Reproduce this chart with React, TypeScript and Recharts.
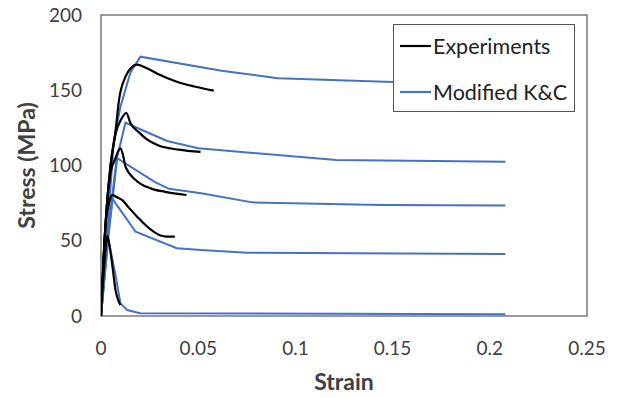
import { LineChart, Line, XAxis, YAxis, Legend, ReferenceArea, Label } from "recharts"

const xTicks = [0, 0.05, 0.1, 0.15, 0.2, 0.25]
const yTicks = [0, 50, 100, 150, 200]
const seriesNames = ["Experiments", "Modified K&C"]

// experiments (black)
const exp1Strain = [0, 0.0023, 0.0049, 0.0075, 0.0092, 0.0126, 0.0155, 0.0185, 0.023, 0.029, 0.039, 0.048, 0.058]
const exp1Stress = [0, 60, 100, 123, 143, 159, 165, 167, 165, 161, 155.7, 152.5, 149.7]
const exp2Strain = [0, 0.0023, 0.0049, 0.0075, 0.0105, 0.013, 0.0152, 0.0195, 0.024, 0.029, 0.04, 0.0512]
const exp2Stress = [0, 60, 100, 121, 131, 135, 128, 122, 117, 113.6, 110.5, 109]
const exp3Strain = [0, 0.0023, 0.0049, 0.0075, 0.009, 0.01, 0.0115, 0.0126, 0.0178, 0.0255, 0.033, 0.044]
const exp3Stress = [0, 60, 95, 105, 110, 111.4, 106, 99.2, 90.4, 84.8, 82.5, 80.4]
const exp4Strain = [0, 0.0023, 0.0045, 0.0058, 0.008, 0.011, 0.0143, 0.0186, 0.026, 0.0306, 0.034, 0.038]
const exp4Stress = [0, 60, 77, 80.4, 79, 77, 72, 66, 57, 53.5, 52.8, 52.7]
const exp5Strain = [0, 0.002, 0.0032, 0.0042, 0.0058, 0.0075, 0.009, 0.01]
const exp5Stress = [0, 40, 53.5, 48, 34, 17, 10, 7.3]

// Modified K&C model (blue)
const kc1Strain = [0, 0.0035, 0.0066, 0.01, 0.0152, 0.0203, 0.062, 0.091, 0.15, 0.208]
const kc1Stress = [0, 60, 117, 139, 162, 172.3, 163, 158, 155.5, 153.5]
const kc2Strain = [0, 0.004, 0.008, 0.0126, 0.034, 0.05, 0.121, 0.208]
const kc2Stress = [0, 60, 104, 128.4, 116.3, 111.4, 103.6, 102.5]
const kc3Strain = [0, 0.004, 0.0083, 0.0278, 0.035, 0.0515, 0.0778, 0.144, 0.208]
const kc3Stress = [0, 55, 104.8, 89, 84.5, 81.5, 75.5, 73.8, 73.5]
const kc4Strain = [0, 0.003, 0.0058, 0.0178, 0.039, 0.0515, 0.075, 0.208]
const kc4Stress = [0, 45, 78, 56, 45, 43.9, 42, 41.2]
const kc5Strain = [0, 0.002, 0.0037, 0.0075, 0.01, 0.0135, 0.02, 0.208]
const kc5Stress = [0, 30, 51.6, 27, 8.4, 4, 1.8, 1.2]

const zip = (xs: number[], ys: number[]) => xs.map((x, i) => ({ strain: x, stress: ys[i] }))

const experiments = [
  zip(exp1Strain, exp1Stress),
  zip(exp2Strain, exp2Stress),
  zip(exp3Strain, exp3Stress),
  zip(exp4Strain, exp4Stress),
  zip(exp5Strain, exp5Stress),
]
const models = [
  zip(kc1Strain, kc1Stress),
  zip(kc2Strain, kc2Stress),
  zip(kc3Strain, kc3Stress),
  zip(kc4Strain, kc4Stress),
  zip(kc5Strain, kc5Stress),
]

const FONT = "Lato, 'Open Sans', sans-serif"
const TEXT = "#404040"
const BLACK = "#000000"
const BLUE = "#4472C4"

function LegendBox() {
  const colors = [BLACK, BLUE]
  return (
    <div
      style={{
        width: 182,
        height: 88,
        background: "#fff",
        border: "1.5px solid #555",
        boxSizing: "border-box",
        position: "relative",
        fontFamily: FONT,
        fontSize: 21.5,
        color: "#222",
      }}
    >
      {seriesNames.map((name, i) => (
        <div
          key={name}
          style={{ position: "absolute", left: 6, top: 7 + i * 46, height: 28, display: "flex", alignItems: "center" }}
        >
          <svg width={32} height={6}>
            <line x1={0} y1={3} x2={31} y2={3} stroke={colors[i]} strokeWidth={2.2} />
          </svg>
          <span style={{ marginLeft: 1, whiteSpace: "nowrap" }}>{name}</span>
        </div>
      ))}
    </div>
  )
}

export default function App() {
  return (
    <div style={{ position: "absolute", left: 0, top: 0, background: "#fff" }}>
      <LineChart width={617} height={398} margin={{ top: 15, right: 30, left: 0, bottom: 0 }}>
        <XAxis
          dataKey="strain"
          type="number"
          domain={[0, 0.25]}
          ticks={xTicks}
          axisLine={false}
          tickLine={false}
          tickMargin={20}
          height={82}
          tick={{ fill: TEXT, fontSize: 19, fontFamily: FONT }}
          allowDataOverflow
        >
          <Label
            content={({ viewBox }: any) => (
              <text
                x={viewBox.x + viewBox.width / 2}
                y={viewBox.y + 74}
                textAnchor="middle"
                fontFamily={FONT}
                fontWeight="bold"
                fontSize={23}
                fill={TEXT}
              >
                Strain
              </text>
            )}
          />
        </XAxis>
        <YAxis
          type="number"
          domain={[0, 200]}
          ticks={yTicks}
          axisLine={false}
          tickLine={false}
          tickMargin={13}
          width={101}
          tick={{ fill: TEXT, fontSize: 19, fontFamily: FONT }}
        >
          <Label
            content={({ viewBox }: any) => {
              const cx = 26
              const cy = viewBox.y + viewBox.height / 2
              return (
                <text
                  x={cx}
                  y={cy}
                  transform={`rotate(-90 ${cx} ${cy})`}
                  textAnchor="middle"
                  dominantBaseline="central"
                  fontFamily={FONT}
                  fontWeight="bold"
                  fontSize={23}
                  fill={TEXT}
                >
                  Stress (MPa)
                </text>
              )
            }}
          />
        </YAxis>
        <ReferenceArea x1={0} x2={0.25} y1={0} y2={200} fill="none" stroke="#7a7a7a" strokeWidth={1.5} />
        {experiments.map((d, i) => [
          <Line
            key={"kc" + i}
            data={models[i]}
            dataKey="stress"
            type="linear"
            stroke={BLUE}
            strokeWidth={2}
            dot={false}
            isAnimationActive={false}
          />,
          <Line
            key={"exp" + i}
            data={d}
            dataKey="stress"
            type="monotone"
            stroke={BLACK}
            strokeWidth={2.2}
            dot={false}
            isAnimationActive={false}
          />,
        ])}
        <Legend
          layout="vertical"
          align="center"
          verticalAlign="middle"
          content={() => <LegendBox />}
          wrapperStyle={{ position: "absolute", left: 393, top: 24, width: 182, height: 88 }}
        />
      </LineChart>
    </div>
  )
}
